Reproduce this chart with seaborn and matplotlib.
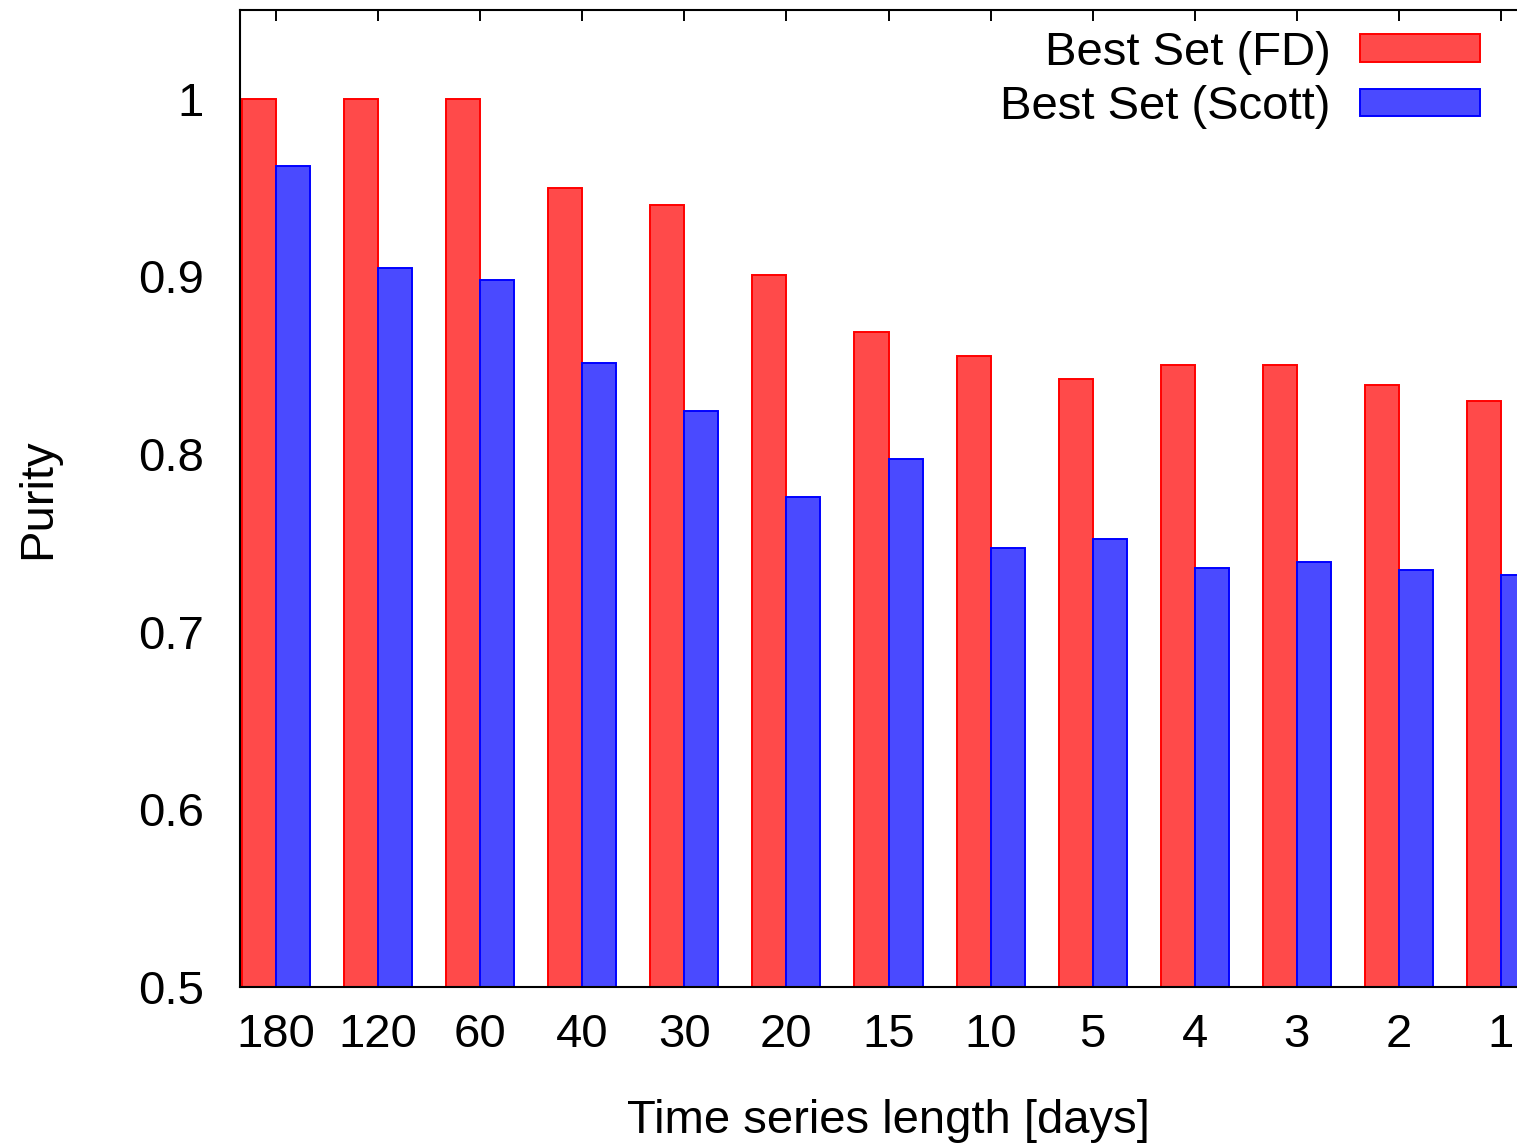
import pandas as pd
import numpy as np
import matplotlib.pyplot as plt
import matplotlib.patches as mpatches
from matplotlib.ticker import FuncFormatter
import seaborn as sns

# ================= Data =================
lengths = ["180", "120", "60", "40", "30", "20", "15", "10", "5", "4", "3", "2", "1"]
purity_fd = [1.0, 1.0, 1.0, 0.950, 0.940, 0.901, 0.869, 0.855, 0.842, 0.850, 0.850, 0.839, 0.830]
purity_scott = [0.962, 0.905, 0.898, 0.851, 0.824, 0.776, 0.797, 0.747, 0.752, 0.736, 0.739, 0.735, 0.732]
series_names = ["Best Set (FD)", "Best Set (Scott)"]
y_ticks = [0.5, 0.6, 0.7, 0.8, 0.9, 1.0]

fill_colors = ["#ff4a4a", "#4a4aff"]
edge_colors = ["#ff0000", "#0000ff"]

df = pd.DataFrame({
    "length": lengths * 2,
    "purity": purity_fd + purity_scott,
    "set": [series_names[0]] * len(lengths) + [series_names[1]] * len(lengths),
})

# ================= Style =================
sns.set_style("white")
plt.rcParams['font.family'] = ['Liberation Sans', 'DejaVu Sans']
plt.rcParams['axes.edgecolor'] = 'black'
plt.rcParams['text.color'] = 'black'
plt.rcParams['axes.labelcolor'] = 'black'

fig = plt.figure(figsize=(15.17, 11.43), dpi=100)
# axes runs past the right edge of the figure, as in the cropped original
ax = fig.add_axes([240 / 1517, 156 / 1143, 1297 / 1517, 977 / 1143])

sns.barplot(data=df, x="length", y="purity", hue="set", order=lengths,
            hue_order=series_names, palette=fill_colors, width=2 / 3, gap=0,
            saturation=1, legend=False, ax=ax)

for container, ec in zip(ax.containers, edge_colors):
    for bar in container:
        bar.set_edgecolor(ec)
        bar.set_linewidth(1.4)

ax.set_axisbelow(True)
ax.set_xlim(-0.353, len(lengths) - 1 + 0.353)
ax.set_ylim(0.5, 1.05)
ax.set_yticks(y_ticks)
ax.yaxis.set_major_formatter(FuncFormatter(lambda v, p: f"{v:g}"))

for s in ax.spines.values():
    s.set_visible(True)
    s.set_linewidth(1.5)
    s.set_color('black')

ax.tick_params(axis='both', direction='in', length=8, width=1.4,
               top=True, right=True, labelsize=34, colors='black')
ax.tick_params(axis='y', pad=26)
ax.tick_params(axis='x', pad=19)

ax.set_xlabel("Time series length [days]", fontsize=34, labelpad=30)
ax.set_ylabel("Purity", fontsize=34, labelpad=56)

handles = [mpatches.Patch(facecolor=fc, edgecolor=ec, linewidth=1.4)
           for fc, ec in zip(fill_colors, edge_colors)]
fig.legend(handles, series_names, loc='upper right',
           bbox_to_anchor=(1480 / 1517, 1 - 31 / 1143),
           bbox_transform=fig.transFigure, frameon=False, fontsize=34,
           markerfirst=False, handlelength=2.55, handleheight=0.52,
           handletextpad=0.62, labelspacing=0.22, borderpad=0, borderaxespad=0)

plt.savefig("out.png", dpi=100)
plt.close()
